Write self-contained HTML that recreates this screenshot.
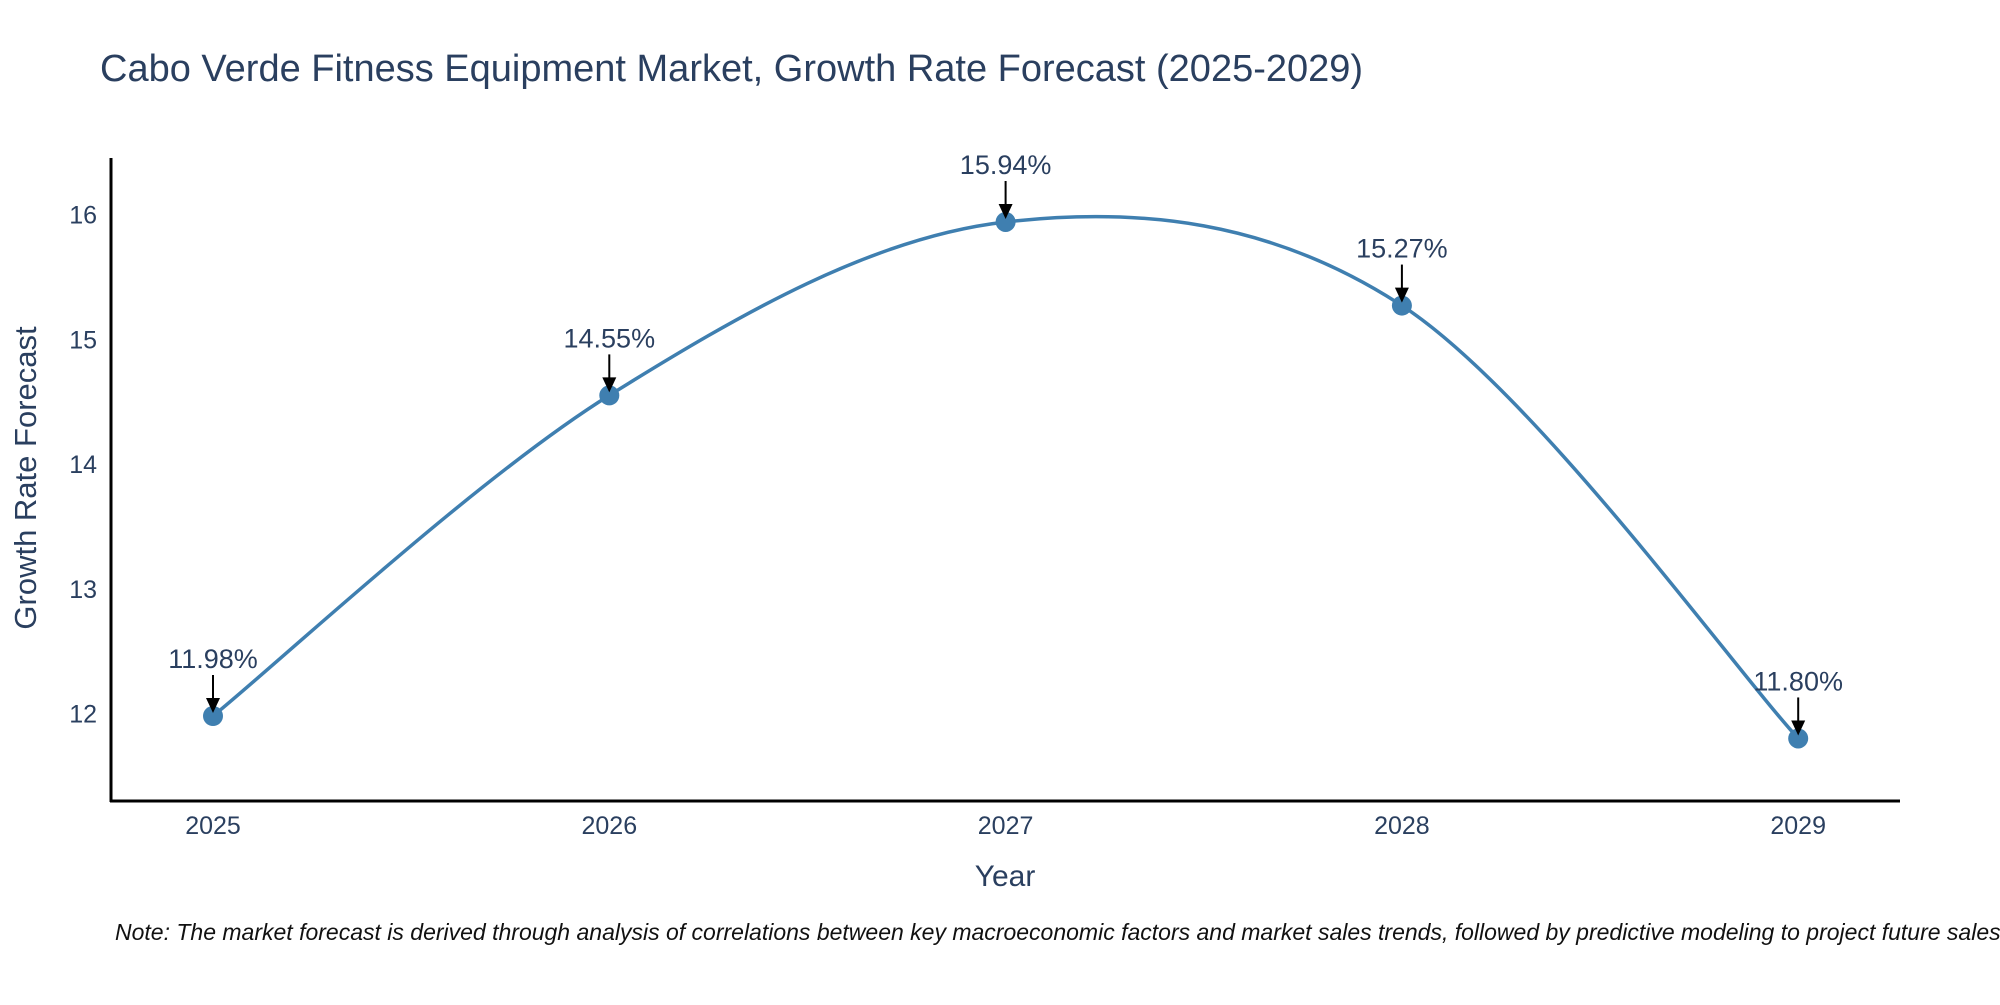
<!DOCTYPE html>
<html><head><meta charset="utf-8"><style>
body{margin:0;background:#fff}
svg text{font-family:"Liberation Sans",sans-serif}
</style></head><body>
<svg id="chart" width="2000" height="1000" viewBox="0 0 2000 1000" xmlns="http://www.w3.org/2000/svg">
<rect width="2000" height="1000" fill="#fff"/>
<text x="100" y="81" font-size="38" fill="#2a3f5f">Cabo Verde Fitness Equipment Market, Growth Rate Forecast (2025-2029)</text>
<g id="yticks"></g><g id="xticks"></g>
<line x1="111" y1="158" x2="111" y2="802" stroke="#000" stroke-width="3"/>
<line x1="110" y1="801" x2="1900" y2="801" stroke="#000" stroke-width="3"/>
<text transform="translate(36,478) rotate(-90)" text-anchor="middle" font-size="31" fill="#2a3f5f">Growth Rate Forecast</text>
<text x="1005" y="886" text-anchor="middle" font-size="30" fill="#2a3f5f">Year</text>
<g id="series"></g>
<text x="115" y="940" font-size="23" font-style="italic" fill="#111">Note: The market forecast is derived through analysis of correlations between key macroeconomic factors and market sales trends, followed by predictive modeling to project future sales</text>
</svg>
<script>
const categories = ["2025","2026","2027","2028","2029"];
const values = [11.98, 14.55, 15.94, 15.27, 11.80];
const yTicks = [12, 13, 14, 15, 16];
const labels = ["11.98%","14.55%","15.94%","15.27%","11.80%"];

const NS = "http://www.w3.org/2000/svg";
function xPos(i){ return 213 + i * 396.3; }
function yPos(v){ return 713.5 - (v - 12) * 124.75; }
function mk(tag, attrs, parent){ const e = document.createElementNS(NS, tag); for (const k in attrs) e.setAttribute(k, attrs[k]); parent.appendChild(e); return e; }

const yt = document.getElementById('yticks');
yTicks.forEach(t => {
  const e = mk('text', {x: 97, y: yPos(t) + 9, 'text-anchor': 'end', 'font-size': 25, fill: '#2a3f5f'}, yt);
  
  
  e.textContent = t;
});
const xt = document.getElementById('xticks');
categories.forEach((c, i) => {
  const e = mk('text', {x: xPos(i), y: 834, 'text-anchor': 'middle', 'font-size': 25, fill: '#2a3f5f'}, xt);
  
  
  e.textContent = c;
});

const pts = values.map((v, i) => [xPos(i), yPos(v)]);
const s = 0.5;
let d = `M${pts[0][0]},${pts[0][1]}`;
for (let i = 0; i < pts.length - 1; i++) {
  const p0 = pts[Math.max(i - 1, 0)], p1 = pts[i], p2 = pts[i + 1], p3 = pts[Math.min(i + 2, pts.length - 1)];
  const c1 = [p1[0] + (p2[0] - p0[0]) * s / 3, p1[1] + (p2[1] - p0[1]) * s / 3];
  const c2 = [p2[0] - (p3[0] - p1[0]) * s / 3, p2[1] - (p3[1] - p1[1]) * s / 3];
  d += ` C${c1[0]},${c1[1]} ${c2[0]},${c2[1]} ${p2[0]},${p2[1]}`;
}
const ser = document.getElementById('series');
const line = mk('path', {d: d, fill: 'none', stroke: '#3f7fb0', 'stroke-width': 3.5}, ser);


pts.forEach((p, i) => {
  const c = mk('circle', {cx: p[0], cy: p[1], r: 10, fill: '#3f7fb0'}, ser);
  
  
  const a = mk('line', {x1: p[0], y1: p[1] - 41, x2: p[0], y2: p[1] - 14, stroke: '#000', 'stroke-width': 2}, ser);
  
  
  const h = mk('polygon', {points: `${p[0]-7},${p[1]-18} ${p[0]+7},${p[1]-18} ${p[0]},${p[1]-3}`, fill: '#000'}, ser);
  
  
  const t = mk('text', {x: p[0], y: p[1] - 48, 'text-anchor': 'middle', 'font-size': 27, fill: '#2a3f5f'}, ser);
  
  
  t.textContent = labels[i];
});
</script>
</body></html>
